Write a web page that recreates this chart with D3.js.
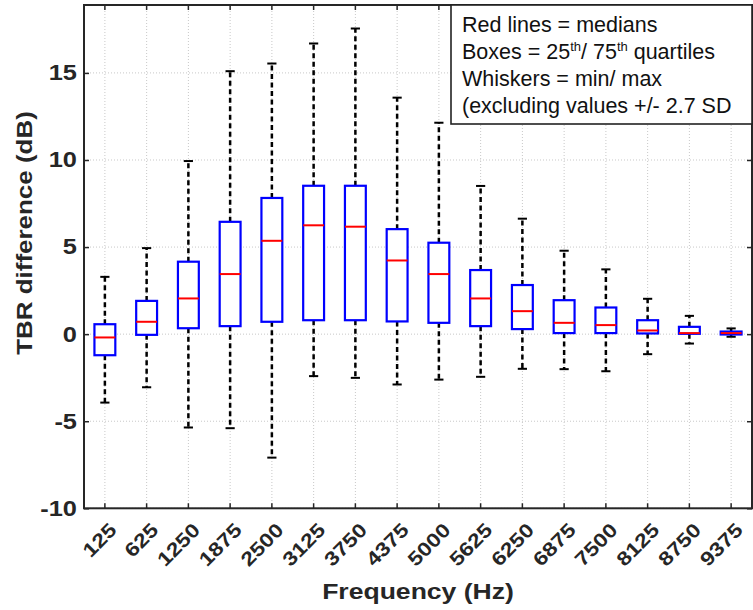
<!DOCTYPE html>
<html>
<head>
<meta charset="utf-8">
<script src="https://cdn.jsdelivr.net/npm/d3@7"></script>
<style>
  html, body { margin: 0; padding: 0; background: #fff; }
  svg { display: block; }
</style>
</head>
<body>
<svg id="chart" width="753" height="610"></svg>
<script>
// Frequency bands (Hz)
const frequencies = ["125", "625", "1250", "1875", "2500", "3125", "3750", "4375",
                     "5000", "5625", "6250", "6875", "7500", "8125", "8750", "9375"];

// TBR difference (dB) summary per band
const whiskerMax = [3.29, 4.94, 9.94, 15.10, 15.54, 16.69, 17.55, 13.58,
                    12.14, 8.51, 6.63, 4.79, 3.72, 2.03, 1.05, 0.33];
const quartile75 = [0.57, 1.91, 4.16, 6.45, 7.82, 8.52, 8.52, 6.03,
                    5.25, 3.68, 2.82, 1.95, 1.53, 0.80, 0.42, 0.15];
const medians    = [-0.19, 0.71, 2.05, 3.45, 5.36, 6.25, 6.17, 4.23,
                    3.45, 2.05, 1.32, 0.65, 0.52, 0.21, 0.06, 0.06];
const quartile25 = [-1.21, -0.04, 0.34, 0.46, 0.71, 0.80, 0.80, 0.73,
                    0.65, 0.46, 0.29, 0.06, 0.06, 0.04, 0.02, -0.02];
const whiskerMin = [-3.93, -3.05, -5.36, -5.40, -7.09, -2.41, -2.51, -2.89,
                    -2.61, -2.45, -1.99, -2.01, -2.13, -1.15, -0.54, -0.15];

const yTicks = [-10, -5, 0, 5, 10, 15];
const yDomain = [-10, 18.9];

const legendLines = [
  [{t: "Red lines = medians"}],
  [{t: "Boxes = 25"}, {t: "th", sup: true}, {t: "/ 75"}, {t: "th", sup: true}, {t: " quartiles"}],
  [{t: "Whiskers = min/ max"}],
  [{t: "(excluding values +/- 2.7 SD"}]
];

const stats = frequencies.map((f, i) => ({
  f, lo: whiskerMin[i], q1: quartile25[i], med: medians[i], q3: quartile75[i], hi: whiskerMax[i]
}));

const plot = {left: 84, right: 752, top: 5, bottom: 508.3};
const axisColor = "#262626";
const boldFont = "'Liberation Sans', Arial, Helvetica, sans-serif";
const wide = 1.18; // horizontal stretch of the bold axis lettering

const svg = d3.select("#chart");

const x = d3.scaleBand().domain(frequencies).range([plot.left, plot.right]).paddingInner(0).paddingOuter(0);
const y = d3.scaleLinear().domain(yDomain).range([plot.bottom, plot.top]);
const cx = f => x(f) + x.bandwidth() / 2;
const boxW = x.bandwidth() * 0.5;
const capW = x.bandwidth() * 0.22;

// grid
const grid = svg.append("g").attr("class", "grid")
  .attr("stroke", "#c8c8c8").attr("stroke-width", 1).attr("stroke-dasharray", "1,2");
grid.selectAll("line.gx").data(frequencies).join("line")
  .attr("x1", d => cx(d)).attr("x2", d => cx(d))
  .attr("y1", plot.top).attr("y2", plot.bottom);
grid.selectAll("line.gy").data(yTicks).join("line")
  .attr("x1", plot.left).attr("x2", plot.right)
  .attr("y1", d => y(d)).attr("y2", d => y(d));

// axes with inward ticks on all four sides
const tickLen = 5;
const xAxisB = d3.axisBottom(x).tickSizeInner(-tickLen).tickSizeOuter(0).tickFormat("");
const xAxisT = d3.axisTop(x).tickSizeInner(-tickLen).tickSizeOuter(0).tickFormat("");
const yAxisL = d3.axisLeft(y).tickValues(yTicks).tickSizeInner(-tickLen).tickSizeOuter(0)
  .tickPadding(6).tickFormat(d => String(d));
const yAxisR = d3.axisRight(y).tickValues(yTicks).tickSizeInner(-tickLen).tickSizeOuter(0).tickFormat("");

function styleAxis(g) {
  g.select(".domain").remove();
  g.selectAll(".tick line").attr("stroke", axisColor).attr("stroke-width", 1.5);
}

svg.append("g").attr("transform", `translate(0,${plot.bottom})`).call(xAxisB).call(styleAxis);
svg.append("g").attr("transform", `translate(0,${plot.top})`).call(xAxisT).call(styleAxis);
svg.append("g").attr("transform", `translate(${plot.right},0)`).call(yAxisR).call(styleAxis);
const gyl = svg.append("g").attr("transform", `translate(${plot.left},0)`).call(yAxisL).call(styleAxis);
gyl.selectAll(".tick text")
  .attr("transform", `scale(${wide},1)`)
  .attr("font-family", boldFont).attr("font-weight", "bold").attr("font-size", 21.5)
  .attr("fill", axisColor);

// rotated frequency labels
svg.append("g").selectAll("text").data(frequencies).join("text")
  .attr("transform", d => `translate(${cx(d) + 13},${plot.bottom + 23}) rotate(-45) scale(${wide},1)`)
  .attr("text-anchor", "end")
  .attr("font-family", boldFont).attr("font-weight", "bold").attr("font-size", 19.5)
  .attr("fill", axisColor)
  .text(d => d);

// box plots
const boxes = svg.append("g").selectAll("g").data(stats).join("g");
boxes.append("line")
  .attr("x1", d => cx(d.f)).attr("x2", d => cx(d.f))
  .attr("y1", d => y(d.q3)).attr("y2", d => y(d.hi))
  .attr("stroke", "#000").attr("stroke-width", 2.5).attr("stroke-dasharray", "5,3.5");
boxes.append("line")
  .attr("x1", d => cx(d.f)).attr("x2", d => cx(d.f))
  .attr("y1", d => y(d.q1)).attr("y2", d => y(d.lo))
  .attr("stroke", "#000").attr("stroke-width", 2.5).attr("stroke-dasharray", "5,3.5");
boxes.append("line")
  .attr("x1", d => cx(d.f) - capW / 2).attr("x2", d => cx(d.f) + capW / 2)
  .attr("y1", d => y(d.hi)).attr("y2", d => y(d.hi))
  .attr("stroke", "#000").attr("stroke-width", 2);
boxes.append("line")
  .attr("x1", d => cx(d.f) - capW / 2).attr("x2", d => cx(d.f) + capW / 2)
  .attr("y1", d => y(d.lo)).attr("y2", d => y(d.lo))
  .attr("stroke", "#000").attr("stroke-width", 2);
boxes.append("rect")
  .attr("x", d => cx(d.f) - boxW / 2).attr("width", boxW)
  .attr("y", d => y(d.q3)).attr("height", d => Math.max(0.5, y(d.q1) - y(d.q3)))
  .attr("fill", "#fff").attr("stroke", "#0000ff").attr("stroke-width", 2.2);
boxes.append("line")
  .attr("x1", d => cx(d.f) - boxW / 2).attr("x2", d => cx(d.f) + boxW / 2)
  .attr("y1", d => y(d.med)).attr("y2", d => y(d.med))
  .attr("stroke", "#ff0000").attr("stroke-width", 2);

// plot frame
svg.append("rect")
  .attr("x", plot.left).attr("y", plot.top)
  .attr("width", plot.right - plot.left).attr("height", plot.bottom - plot.top)
  .attr("fill", "none").attr("stroke", axisColor).attr("stroke-width", 2);

// axis titles
svg.append("text")
  .attr("transform", `translate(418,599) scale(${wide},1)`)
  .attr("text-anchor", "middle")
  .attr("font-family", boldFont).attr("font-weight", "bold").attr("font-size", 22.5)
  .attr("fill", axisColor)
  .text("Frequency (Hz)");
svg.append("text")
  .attr("transform", `translate(32,233) rotate(-90) scale(${wide},1)`)
  .attr("text-anchor", "middle")
  .attr("font-family", boldFont).attr("font-weight", "bold").attr("font-size", 22)
  .attr("fill", axisColor)
  .text("TBR difference (dB)");

// annotation box
const legend = svg.append("g");
legend.append("rect")
  .attr("x", 451).attr("y", plot.top).attr("width", plot.right - 451).attr("height", 124 - plot.top)
  .attr("fill", "#fff").attr("stroke", "#222").attr("stroke-width", 1.6);
legendLines.forEach((parts, i) => {
  const t = legend.append("text")
    .attr("x", 462).attr("y", 31.7 + i * 27.2)
    .attr("font-family", "'Liberation Sans', Arial, sans-serif").attr("font-size", 21.5)
    .attr("fill", "#111");
  let raised = false;
  parts.forEach(p => {
    const ts = t.append("tspan").text(p.t);
    if (p.sup && !raised) { ts.attr("dy", -8).attr("font-size", 13); raised = true; }
    else if (!p.sup && raised) { ts.attr("dy", 8); raised = false; }
  });
});
</script>
</body>
</html>
